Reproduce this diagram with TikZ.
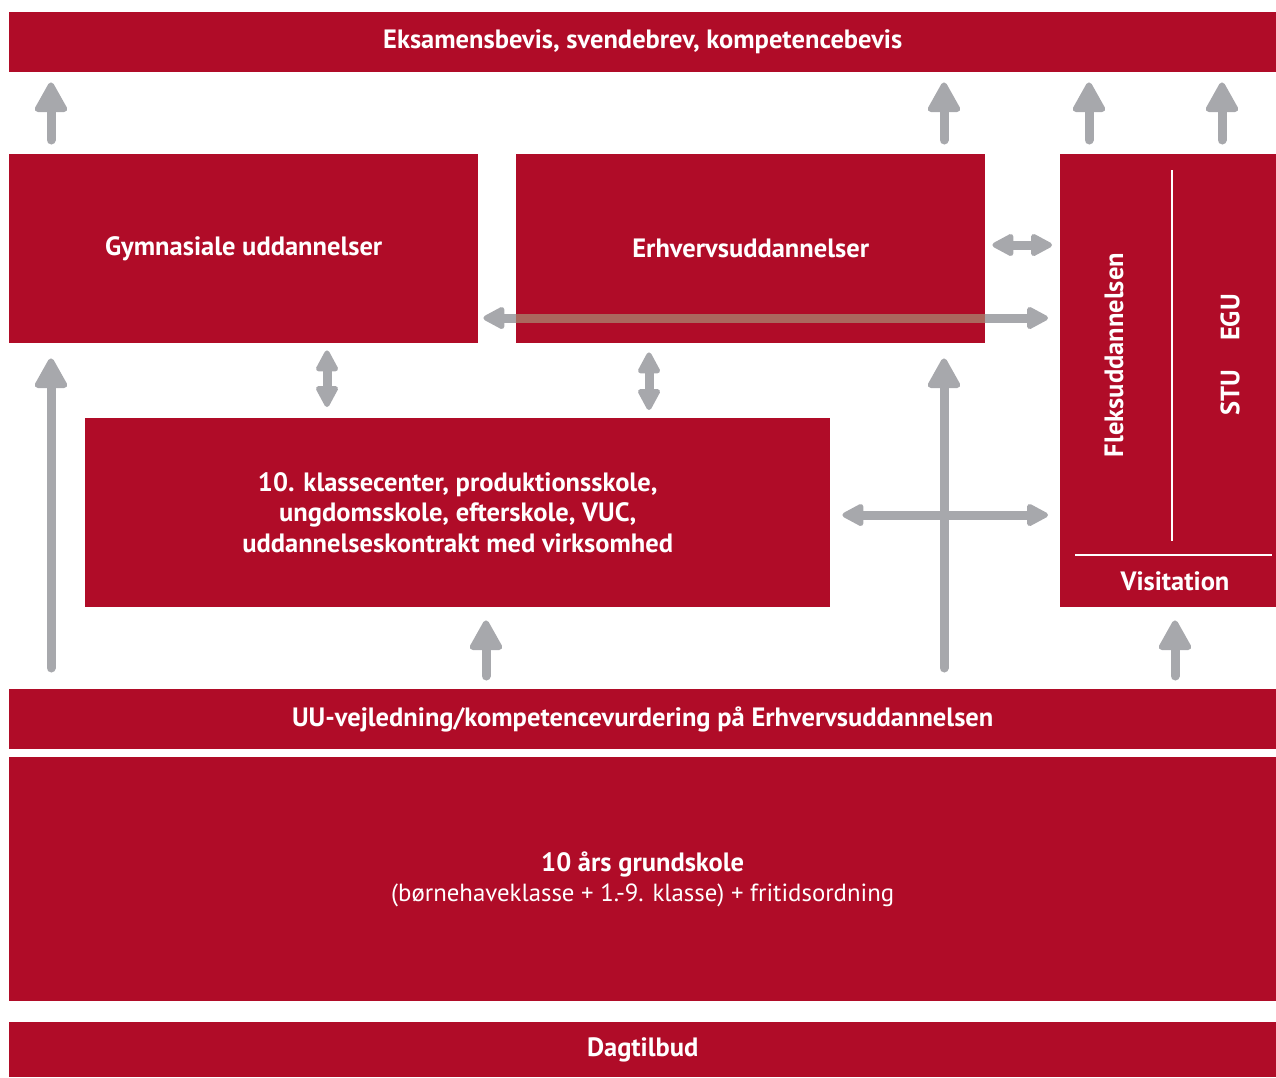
\documentclass[tikz,border=0pt]{standalone}
\usepackage{fontspec}
\setmainfont{PT Sans}
\usetikzlibrary{arrows.meta}

\definecolor{uured}{RGB}{176,12,40}
\definecolor{uugrey}{RGB}{167,168,172}
\definecolor{uumix}{RGB}{170,104,94}

\tikzset{
  redbox/.style={fill=uured, text=white, font=\bfseries\fontsize{26.5}{30.5}\selectfont,
    inner sep=0pt, anchor=north west, align=center},
  boxtext/.style={text=white, font=\bfseries\fontsize{26.5}{30.5}\selectfont, inner sep=0pt},
  bigarr/.style={draw=uugrey, line width=9pt, line cap=round, -{Triangle[round, line width=6pt 0, width=35pt, length=33pt]}},
  duoarr/.style={draw=uugrey, line width=9pt,
    {Triangle[round, line width=5pt 0, width=24pt, length=24pt]}-{Triangle[round, line width=5pt 0, width=24pt, length=24pt]}},
  thinline/.style={draw=white, line width=1.2pt}
}

\begin{document}
\begin{tikzpicture}[x=1pt, y=-1pt]
\useasboundingbox (0,0) rectangle (1276,1077);

% boxes
\node[redbox, minimum width=1267pt, minimum height=60pt] (exam) at (9,12) {Eksamensbevis, svendebrev, kompetencebevis};
\node[redbox, minimum width=469pt, minimum height=189pt] (gym) at (9,154) {Gymnasiale uddannelser};
\node[redbox, minimum width=469pt, minimum height=189pt] (erhv) at (516,154) {Erhvervsuddannelser};
\node[redbox, minimum width=216pt, minimum height=453pt] (flex) at (1060,154) {};
\node[redbox, minimum width=745pt, minimum height=189pt] (mid) at (85,418)
  {10. klassecenter, produktionsskole,\\ungdomsskole, efterskole, VUC,\\uddannelseskontrakt med virksomhed};
\node[redbox, minimum width=1267pt, minimum height=60pt] (uu) at (9,689) {UU-vejledning/kompetencevurdering på Erhvervsuddannelsen};
\node[redbox, minimum width=1267pt, minimum height=244pt] (grund) at (9,757)
  {10 års grundskole\\{\mdseries\fontsize{24.8}{30.5}\selectfont (børnehaveklasse + 1.-9. klasse) + fritidsordning}};
\node[redbox, minimum width=1267pt, minimum height=55pt] (dag) at (9,1022) {Dagtilbud};

% inside the right box
\draw[thinline] (1172,170) -- (1172,541);
\draw[thinline] (1075,555) -- (1272,555);
\node[boxtext, rotate=90] (fleks) at (1114,355) {Fleksuddannelsen};
\node[boxtext, rotate=90] (stuegu) at (1230,355) {STU\hspace{1.1em}EGU};
\node[boxtext] (visit) at (1175,581) {Visitation};

% arrow columns and rows
\coordinate (cA) at (51,0);
\coordinate (cB) at (944,0);
\coordinate (cC) at (1089,0);
\coordinate (cD) at (1222,0);
\coordinate (cE) at (327,0);
\coordinate (cF) at (649,0);
\coordinate (cG) at (486,0);
\coordinate (cH) at (1175,0);
\coordinate (r1) at (0,245);
\coordinate (r2) at (0,318);
\coordinate (r3) at (0,515);

% up to the top bar
\draw[bigarr, shorten <=14pt, shorten >=10pt] (cA |- gym.north) -- (cA |- exam.south);
\draw[bigarr, shorten <=14pt, shorten >=10pt] (cB |- erhv.north) -- (cB |- exam.south);
\draw[bigarr, shorten <=14pt, shorten >=10pt] (cC |- flex.north) -- (cC |- exam.south);
\draw[bigarr, shorten <=14pt, shorten >=10pt] (cD |- flex.north) -- (cD |- exam.south);

% up from UU
\draw[bigarr, shorten <=21pt, shorten >=15pt] (cA |- uu.north) -- (cA |- gym.south);
\draw[bigarr, shorten <=21pt, shorten >=15pt] (cB |- uu.north) -- (cB |- erhv.south);
\draw[bigarr, shorten <=13pt, shorten >=13pt] (cG |- uu.north) -- (cG |- mid.south);
\draw[bigarr, shorten <=13pt, shorten >=13pt] (cH |- uu.north) -- (cH |- flex.south);

% both ways
\draw[duoarr, shorten <=7pt, shorten >=11pt] (cE |- gym.south) -- (cE |- mid.north);
\draw[duoarr, shorten <=9pt, shorten >=8pt] (cF |- erhv.south) -- (cF |- mid.north);
\draw[duoarr, shorten <=7pt, shorten >=8pt] (erhv.east |- r1) -- (flex.west |- r1);
\draw[duoarr, shorten <=5pt, shorten >=12pt] (gym.east |- r2) -- (flex.west |- r2);
\draw[draw=uumix, line width=9pt] (erhv.west |- r2) -- (erhv.east |- r2);
\draw[duoarr, shorten <=12pt, shorten >=12pt] (mid.east |- r3) -- (flex.west |- r3);
\end{tikzpicture}
\end{document}
